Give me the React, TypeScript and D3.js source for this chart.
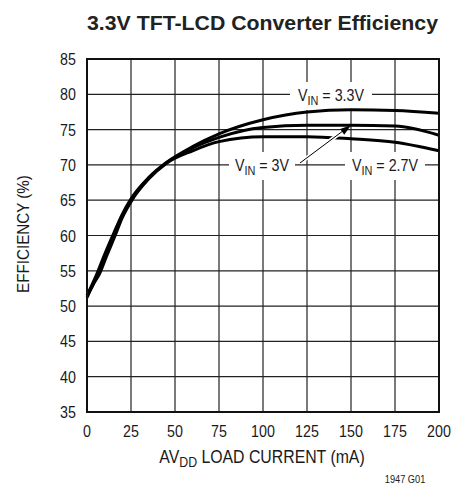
import React from "react";
import * as d3 from "d3";

const xTicks = [0, 25, 50, 75, 100, 125, 150, 175, 200];
const yTicks = [35, 40, 45, 50, 55, 60, 65, 70, 75, 80, 85];

const loadCurrent33 = [0, 5, 10, 15, 20, 25, 35, 45, 60, 75, 100, 125, 150, 175, 200];
const eff33 = [51.5, 54.2, 57.3, 60.2, 63, 65.2, 68.2, 70.3, 72.6, 74.4, 76.4, 77.5, 77.8, 77.7, 77.3];

const loadCurrent30 = [0, 5, 10, 15, 20, 25, 35, 45, 60, 75, 100, 125, 150, 175, 200];
const eff30 = [51.5, 53.8, 56.8, 59.8, 62.7, 65, 68.1, 70.3, 72.4, 73.9, 75.3, 75.6, 75.6, 75.5, 74.2];

const loadCurrent27 = [0, 4, 7, 11, 16, 20, 25, 35, 45, 60, 75, 100, 125, 150, 175, 200];
const eff27 = [51.2, 53.3, 54.5, 57, 60, 62.5, 64.8, 68, 70.2, 72, 73.3, 74, 74, 73.7, 73.2, 72];

const FONT = "'Liberation Sans', Arial, sans-serif";
const SX = 0.84;

type TProps = {
  x: number;
  y: number;
  size?: number;
  anchor?: "start" | "middle" | "end";
  rotate?: number;
  sx?: number;
  children: React.ReactNode;
};

function CText({ x, y, size = 16, anchor = "middle", rotate = 0, sx = SX, children }: TProps) {
  return (
    <g transform={`translate(${x},${y}) rotate(${rotate}) scale(${sx},1)`}>
      <text x={0} y={0} textAnchor={anchor} fontSize={size} fontFamily={FONT} fill="#1a1a1a">
        {children}
      </text>
    </g>
  );
}

export default function App() {
  const left = 87, right = 439, top = 59, bottom = 412;
  const x = d3.scaleLinear().domain([0, 200]).range([left, right]);
  const y = d3.scaleLinear().domain([35, 85]).range([bottom, top]);
  const line = d3
    .line<[number, number]>()
    .x((d) => x(d[0]))
    .y((d) => y(d[1]))
    .curve(d3.curveMonotoneX);
  const series = [
    d3.zip(loadCurrent33, eff33) as [number, number][],
    d3.zip(loadCurrent30, eff30) as [number, number][],
    d3.zip(loadCurrent27, eff27) as [number, number][],
  ];

  const label = (xc: number, yc: number, val: string, w: number) => (
    <g>
      <rect x={xc - w / 2} y={yc - 13} width={w} height={28} fill="#fff" />
      <CText x={xc} y={yc + 6} size={17}>
        V<tspan fontSize={13} dy={4}>IN</tspan>
        <tspan dy={-4}>{` = ${val}`}</tspan>
      </CText>
    </g>
  );

  const ax1 = x(150), ay1 = y(75.6);
  const ax0 = 300, ay0 = 163;

  return (
    <svg width={454} height={493} style={{ position: "fixed", left: 0, top: 0, background: "#fff" }}>
      <text
        x={262.5}
        y={30}
        textAnchor="middle"
        fontSize={21}
        fontWeight="bold"
        fontFamily={FONT}
        fill="#222"
        textLength={351}
        lengthAdjust="spacingAndGlyphs"
      >
        3.3V TFT-LCD Converter Efficiency
      </text>
      {xTicks.map((t) => (
        <line key={"vx" + t} x1={x(t)} x2={x(t)} y1={top} y2={bottom} stroke="#222" strokeWidth={1.2} />
      ))}
      {yTicks.map((t) => (
        <line key={"hy" + t} x1={left} x2={right} y1={y(t)} y2={y(t)} stroke="#222" strokeWidth={1.2} />
      ))}
      {label(331, 95, "3.3V", 82)}
      {label(262, 165, "3V", 66)}
      {label(385, 165, "2.7V", 80)}
      {series.map((s, i) => (
        <path key={i} d={line(s) || ""} fill="none" stroke="#000" strokeWidth={3} strokeLinejoin="round" />
      ))}
      <line x1={ax0} y1={ay0} x2={ax1 - 6} y2={ay1 + 4} stroke="#fff" strokeWidth={4} />
      <line x1={ax0} y1={ay0} x2={ax1 - 6} y2={ay1 + 4} stroke="#000" strokeWidth={1} />
      {(() => {
        const ang = Math.atan2(ay1 - ay0, ax1 - ax0);
        const len = 11, wid = 3.5;
        const bx = ax1 - len * Math.cos(ang), by = ay1 - len * Math.sin(ang);
        const px = -Math.sin(ang) * wid, py = Math.cos(ang) * wid;
        return <polygon points={`${ax1},${ay1} ${bx + px},${by + py} ${bx - px},${by - py}`} fill="#000" />;
      })()}
      <rect x={left} y={top} width={right - left} height={bottom - top} fill="none" stroke="#111" strokeWidth={2} />
      {yTicks.map((t) => (
        <CText key={"yl" + t} x={76} y={y(t) + 6} anchor="end" size={17}>
          {t}
        </CText>
      ))}
      {xTicks.map((t) => (
        <CText key={"xl" + t} x={x(t)} y={437} size={17}>
          {t}
        </CText>
      ))}
      <CText x={262} y={463} size={18} sx={0.88}>
        AV<tspan fontSize={14} dy={4}>DD</tspan>
        <tspan dy={-4}> LOAD CURRENT (mA)</tspan>
      </CText>
      <CText x={29} y={234} size={16} rotate={-90} sx={0.95}>
        EFFICIENCY (%)
      </CText>
      <CText x={405} y={483} size={11}>
        1947 G01
      </CText>
    </svg>
  );
}
